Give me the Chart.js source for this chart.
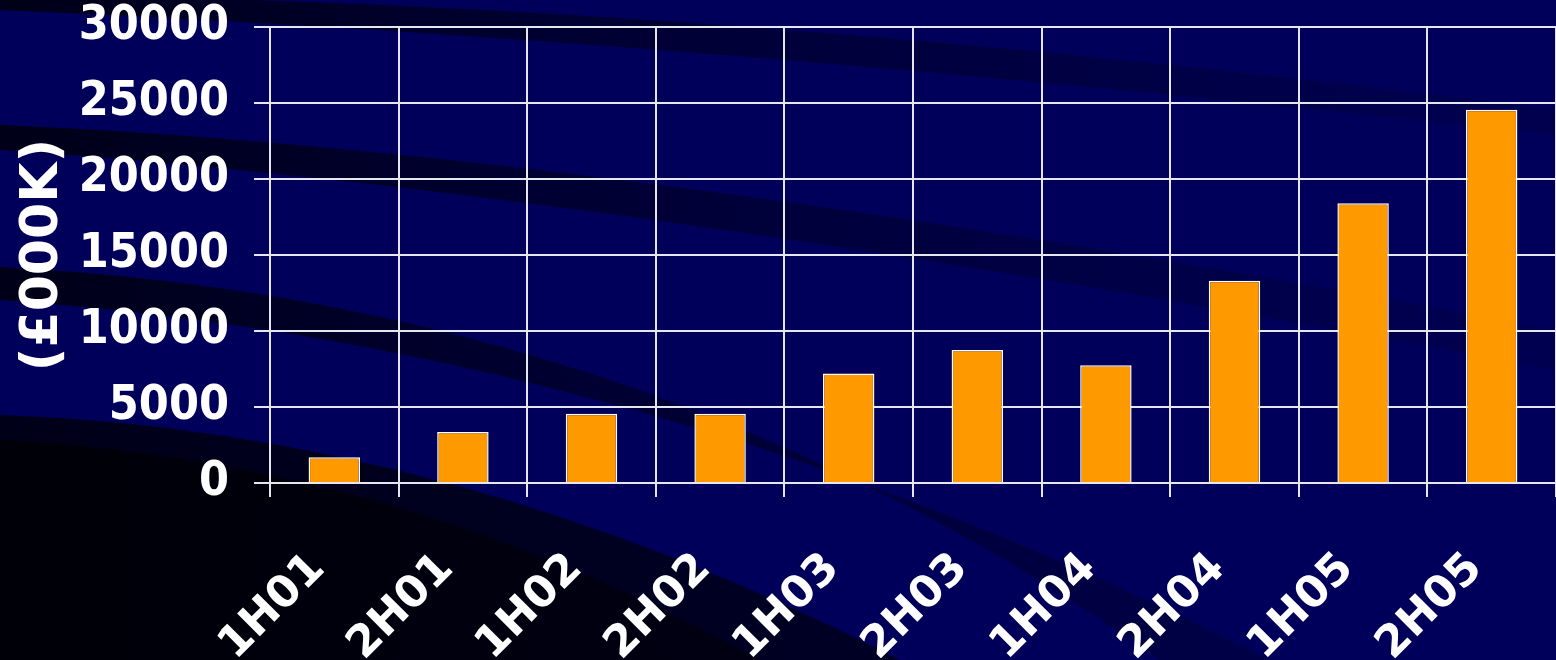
<!DOCTYPE html>
<html>
<head>
<meta charset="utf-8">
<script src="https://cdn.jsdelivr.net/npm/chart.js@4/dist/chart.umd.min.js"></script>
<style>
  html, body { margin: 0; padding: 0; background: #000055; }
  #wrap { width: 1556px; height: 660px; position: relative; }
</style>
</head>
<body>
<div id="wrap"><canvas id="salesChart"></canvas></div>
<script>
// data
const periods = ['1H01', '2H01', '1H02', '2H02', '1H03', '2H03', '1H04', '2H04', '1H05', '2H05'];
const values = [1700, 3350, 4550, 4550, 7200, 8750, 7750, 13300, 18400, 24550];
const yTicks = [0, 5000, 10000, 15000, 20000, 25000, 30000];
const yTitle = '(£000K)';

const FONT = '"DejaVu Sans Condensed", "DejaVu Sans", Verdana, sans-serif';
const FONT_WIDE = '"DejaVu Sans", Verdana, sans-serif';

// background with the dark swooshes
const slideBg = {
    id: 'slideBg',
    beforeDraw(chart) {
        const ctx = chart.ctx;
        const w = chart.width, h = chart.height;
        ctx.save();
        ctx.fillStyle = '#00005a';
        ctx.fillRect(0, 0, w, h);

        const band = (pts, c1, c2) => {
            const g = ctx.createLinearGradient(0, 0, w, 0);
            g.addColorStop(0, c1);
            g.addColorStop(1, c2);
            ctx.fillStyle = g;
            ctx.beginPath();
            pts(ctx);
            ctx.closePath();
            ctx.fill();
        };

        // top band
        band(c => {
            c.moveTo(0, -5);
            c.quadraticCurveTo(700, 0, 1556, 110);
            c.lineTo(1556, 135);
            c.quadraticCurveTo(700, 40, 0, 10);
        }, 'rgba(0,0,20,0.95)', 'rgba(0,0,60,0.35)');

        // second band
        band(c => {
            c.moveTo(0, 125);
            c.quadraticCurveTo(600, 150, 1556, 330);
            c.lineTo(1556, 370);
            c.quadraticCurveTo(600, 190, 0, 150);
        }, 'rgba(0,0,20,0.95)', 'rgba(0,0,60,0.3)');

        // third band
        band(c => {
            c.moveTo(0, 267);
            c.quadraticCurveTo(650, 300, 1160, 660);
            c.lineTo(1270, 660);
            c.quadraticCurveTo(650, 345, 0, 300);
        }, 'rgba(0,0,20,0.95)', 'rgba(0,0,60,0.4)');

        // dark lower left
        band(c => {
            c.moveTo(0, 415);
            c.quadraticCurveTo(450, 430, 900, 660);
            c.lineTo(0, 660);
        }, 'rgba(0,0,25,1)', 'rgba(0,0,45,1)');
        band(c => {
            c.moveTo(0, 440);
            c.quadraticCurveTo(400, 460, 760, 660);
            c.lineTo(0, 660);
        }, 'rgba(0,0,8,1)', 'rgba(0,0,30,1)');
        ctx.restore();
    }
};

const ctx = document.getElementById('salesChart').getContext('2d');
new Chart(ctx, {
    type: 'bar',
    data: {
        labels: periods,
        datasets: [{
            data: values,
            backgroundColor: '#ff9900',
            borderColor: '#ffffff',
            borderWidth: 1.5,
            barPercentage: 0.8,
            categoryPercentage: 0.5
        }]
    },
    options: {
        responsive: true,
        maintainAspectRatio: false,
        animation: false,
        layout: { padding: { top: 27, right: 0, left: 0, bottom: 0 } },
        plugins: {
            legend: { display: false },
            tooltip: { enabled: false }
        },
        scales: {
            x: {
                grid: {
                    color: '#e6e6ee',
                    lineWidth: 2,
                    offset: true,
                    tickLength: 14
                },
                border: { color: '#e6e6ee', width: 2 },
                ticks: {
                    color: '#ffffff',
                    font: { family: FONT_WIDE, size: 44, weight: 'bold' },
                    minRotation: 45,
                    maxRotation: 45,
                    padding: 46,
                    labelOffset: -16
                },
                afterFit(axis) {
                    axis.height = 177;
                    axis.paddingLeft = 0;
                    axis.paddingRight = 0;
                }
            },
            y: {
                min: 0,
                max: 30000,
                afterBuildTicks(axis) { axis.ticks = yTicks.map(v => ({ value: v })); },
                grid: {
                    color: '#e6e6ee',
                    lineWidth: 2,
                    tickLength: 16
                },
                border: { color: '#e6e6ee', width: 2 },
                ticks: {
                    color: '#ffffff',
                    font: { family: FONT, size: 48, weight: 'bold' },
                    padding: 25,
                    callback: v => String(v)
                },
                title: {
                    display: true,
                    text: yTitle,
                    color: '#ffffff',
                    font: { family: FONT_WIDE, size: 52, weight: 'bold' },
                    padding: { top: 12, bottom: 0 }
                },
                afterFit(axis) {
                    axis.width = 270;
                    axis.paddingTop = 0;
                    axis.paddingBottom = 0;
                }
            }
        }
    },
    plugins: [slideBg]
});
</script>
</body>
</html>
